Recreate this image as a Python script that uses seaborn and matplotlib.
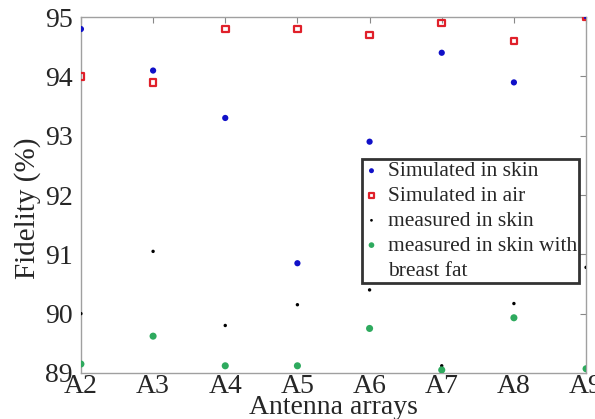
import numpy as np
import pandas as pd
import matplotlib
matplotlib.use('Agg')
import matplotlib.pyplot as plt
from matplotlib.lines import Line2D
import seaborn as sns

arrays = ['A2', 'A3', 'A4', 'A5', 'A6', 'A7', 'A8', 'A9']
sim_skin = [94.8, 94.1, 93.3, 90.85, 92.9, 94.4, 93.9, 95.0]
sim_air = [94.0, 93.9, 94.8, 94.8, 94.7, 94.9, 94.6, 95.0]
meas_skin = [90.0, 91.05, 89.8, 90.15, 90.4, 89.12, 90.17, 90.78]
meas_fat = [89.15, 89.62, 89.12, 89.12, 89.75, 89.05, 89.93, 89.07]

sns.set_style('white')
plt.rcParams['font.family'] = ['Liberation Serif', 'DejaVu Serif']

fig = plt.figure(figsize=(5.95, 4.19), dpi=100)
ax = fig.add_axes([0.136, 0.110, 0.849, 0.849])

x = np.arange(len(arrays))
sns.scatterplot(x=x, y=sim_skin, ax=ax, color='#1010c8', marker='o', s=20,
                edgecolor='none', label='Simulated in skin', zorder=3)
sns.scatterplot(x=x, y=sim_air, ax=ax, color='none', marker='s', s=22,
                edgecolor='#e0202a', linewidth=1.6, label='Simulated in air', zorder=3)
sns.scatterplot(x=x, y=meas_skin, ax=ax, color='black', marker='o', s=6,
                edgecolor='none', label='measured in skin', zorder=3)
sns.scatterplot(x=x, y=meas_fat, ax=ax, color='#2eaa5e', marker='o', s=26,
                edgecolor='none', label='measured in skin with', zorder=3)

ax.set_xlim(0, 7)
ax.set_ylim(89, 95)
ax.set_xticks(x)
ax.set_xticklabels(arrays)
ax.set_yticks(range(89, 96))
ax.tick_params(direction='in', length=4, color='#888888', labelsize=20,
               top=True, right=True)
ax.tick_params(axis='x', pad=1)
ax.tick_params(axis='y', pad=6)
for s in ax.spines.values():
    s.set_color('#a0a0a0')
    s.set_linewidth(1.0)

ax.set_xlabel('Antenna arrays', fontsize=20)
ax.xaxis.set_label_coords(0.5, -0.062)
ax.set_ylabel('Fidelity (%)', fontsize=21)
ax.yaxis.set_label_coords(-0.08, 0.463)

handles, labels = ax.get_legend_handles_labels()
handles.append(Line2D([], [], linestyle='none', marker=None))
labels.append('breast fat')
leg = ax.legend(handles, labels, loc='upper left', bbox_to_anchor=(0.556, 0.601),
                fontsize=15.5, frameon=True, fancybox=False, borderpad=0.1,
                labelspacing=0.22, handletextpad=0.4, handlelength=0.7,
                borderaxespad=0, markerscale=0.8)
leg.get_frame().set_edgecolor('black')
leg.get_frame().set_linewidth(2)

plt.savefig('out.png', dpi=100)
